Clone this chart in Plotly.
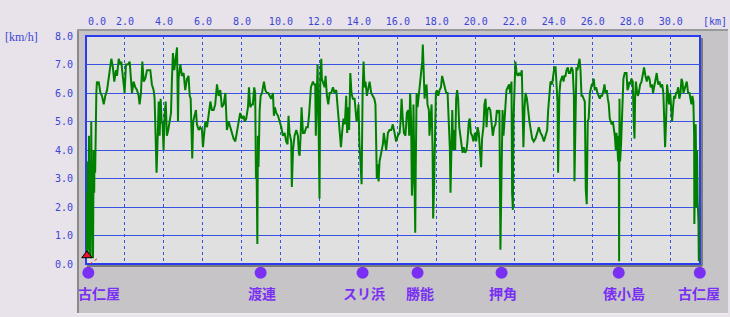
import plotly.graph_objects as go

# ---- speed trace: (distance km, speed km/h) ----
track_0_8 = [
    (0.00, 0.2), (0.03, 2.5), (0.06, 0.3), (0.09, 3.6), (0.12, 0.5), (0.15, 4.5),
    (0.18, 0.3), (0.21, 3.0), (0.24, 0.2), (0.27, 5.0), (0.30, 1.0), (0.33, 3.0),
    (0.36, 0.2), (0.39, 4.0), (0.42, 2.5), (0.44, 4.0), (0.47, 3.2), (0.50, 5.5),
    (0.53, 6.0), (0.56, 6.4), (0.60, 6.3), (0.65, 6.4), (0.74, 6.0), (0.82, 5.9),
    (0.91, 5.6), (0.99, 5.9), (1.08, 6.1), (1.16, 6.5), (1.25, 6.9), (1.30, 7.2),
    (1.38, 6.9), (1.45, 6.4), (1.54, 6.8), (1.59, 6.6), (1.68, 7.2), (1.76, 7.0),
    (1.81, 7.1), (1.88, 6.6), (1.93, 6.2), (1.98, 6.0), (2.05, 7.0), (2.15, 7.0),
    (2.24, 7.1), (2.29, 6.5), (2.36, 6.0), (2.44, 6.4), (2.53, 6.2), (2.62, 6.1),
    (2.70, 5.9), (2.75, 5.6), (2.82, 6.0), (2.89, 7.1), (2.96, 6.4), (3.04, 6.5),
    (3.13, 6.8), (3.23, 6.8), (3.30, 6.8), (3.38, 6.3), (3.47, 6.1), (3.52, 5.8),
    (3.57, 4.6), (3.61, 4.0), (3.62, 3.2), (3.68, 4.5), (3.73, 5.7), (3.78, 4.5),
    (3.83, 5.8), (3.88, 5.0), (3.93, 4.9), (3.98, 4.0), (4.03, 5.2), (4.09, 5.7),
    (4.15, 4.5), (4.22, 4.7), (4.29, 5.0), (4.36, 5.3), (4.41, 6.5), (4.46, 7.4),
    (4.53, 6.8), (4.60, 7.2), (4.67, 7.6), (4.72, 5.0), (4.75, 6.5), (4.84, 7.0),
    (4.92, 6.6), (5.01, 6.7), (5.09, 6.1), (5.18, 6.5), (5.26, 6.6), (5.32, 5.9),
    (5.37, 5.8), (5.42, 4.5), (5.45, 3.7), (5.50, 5.0), (5.57, 5.2), (5.64, 5.4),
    (5.69, 4.9), (5.78, 4.7), (5.86, 4.8), (5.95, 4.7), (6.00, 4.1), (6.05, 4.5),
    (6.12, 5.0), (6.21, 4.8), (6.29, 5.3), (6.38, 5.7), (6.46, 5.4), (6.55, 5.4),
    (6.63, 5.6), (6.72, 6.3), (6.80, 5.9), (6.89, 6.1), (6.97, 5.5), (7.06, 5.6),
    (7.15, 6.0), (7.23, 4.7), (7.32, 5.0), (7.40, 4.8), (7.49, 4.5), (7.57, 4.4),
    (7.66, 4.3), (7.74, 4.6), (7.83, 5.0), (7.91, 5.3), (8.00, 5.1), (8.09, 5.2),
]
track_8_16 = [
    (8.14, 5.0), (8.22, 5.1), (8.31, 5.5), (8.36, 6.2), (8.43, 5.5), (8.50, 5.6),
    (8.56, 5.6), (8.63, 6.2), (8.68, 6.0), (8.72, 3.0), (8.75, 3.5), (8.79, 0.7),
    (8.82, 4.5), (8.85, 3.4), (8.91, 5.4), (8.96, 5.9), (9.03, 6.0), (9.08, 6.2),
    (9.13, 6.4), (9.20, 6.1), (9.28, 6.0), (9.35, 6.0), (9.42, 5.9), (9.50, 5.8),
    (9.59, 6.0), (9.64, 5.2), (9.69, 5.5), (9.76, 5.3), (9.85, 5.2), (9.93, 5.0),
    (10.02, 4.8), (10.10, 4.5), (10.19, 4.6), (10.27, 4.3), (10.34, 4.2), (10.39, 5.2),
    (10.44, 4.6), (10.53, 4.3), (10.56, 2.7), (10.62, 4.0), (10.70, 4.5), (10.79, 4.7),
    (10.87, 4.5), (10.92, 3.9), (10.96, 3.8), (11.01, 4.5), (11.06, 5.5), (11.13, 4.6),
    (11.21, 4.6), (11.30, 4.8), (11.38, 4.8), (11.44, 5.2), (11.49, 5.8), (11.54, 6.2),
    (11.59, 6.3), (11.64, 6.4), (11.71, 6.3), (11.76, 6.3), (11.79, 4.5), (11.85, 6.8),
    (11.88, 7.0), (11.93, 5.0), (11.98, 2.3), (12.02, 6.5), (12.07, 7.2), (12.10, 6.5),
    (12.15, 6.4), (12.24, 6.2), (12.29, 6.6), (12.36, 5.9), (12.43, 5.6), (12.50, 6.0),
    (12.58, 6.0), (12.67, 6.2), (12.75, 6.0), (12.84, 6.1), (12.91, 5.5), (12.96, 5.0),
    (13.01, 4.6), (13.08, 4.1), (13.15, 4.7), (13.21, 5.1), (13.28, 4.9), (13.35, 5.9),
    (13.40, 4.6), (13.45, 5.5), (13.50, 4.7), (13.56, 6.7), (13.62, 6.0), (13.69, 5.8),
    (13.78, 5.8), (13.83, 5.5), (13.88, 5.0), (13.93, 5.2), (13.98, 5.6), (14.03, 4.2),
    (14.09, 3.3), (14.14, 2.8), (14.19, 6.0), (14.24, 7.1), (14.29, 6.2), (14.34, 6.4),
    (14.41, 5.9), (14.48, 6.1), (14.55, 6.4), (14.63, 6.0), (14.72, 5.9), (14.79, 5.8),
    (14.85, 5.6), (14.89, 4.3), (14.92, 3.0), (14.97, 3.5), (15.01, 2.9), (15.06, 3.6),
    (15.15, 4.0), (15.23, 4.2), (15.28, 4.6), (15.35, 4.3), (15.40, 4.0), (15.49, 4.6),
    (15.57, 4.7), (15.66, 4.7), (15.74, 4.9), (15.83, 4.6), (15.91, 4.3), (16.00, 4.5),
    (16.09, 4.6),
]
track_16_24 = [
    (16.14, 5.0), (16.19, 5.8), (16.24, 5.2), (16.31, 4.6), (16.39, 4.5), (16.46, 5.3),
    (16.53, 5.4), (16.58, 4.5), (16.63, 6.0), (16.68, 5.0), (16.72, 2.4), (16.77, 3.2),
    (16.80, 5.6), (16.85, 3.8), (16.89, 1.1), (16.92, 3.6), (16.96, 6.0), (17.01, 5.5),
    (17.08, 6.0), (17.15, 6.5), (17.20, 6.6), (17.25, 7.1), (17.28, 7.7), (17.33, 6.5),
    (17.37, 5.8), (17.42, 6.1), (17.47, 6.3), (17.52, 5.6), (17.59, 5.4), (17.62, 4.5),
    (17.68, 5.1), (17.73, 5.6), (17.78, 4.0), (17.81, 1.6), (17.86, 2.8), (17.90, 5.2),
    (17.95, 6.0), (18.00, 6.1), (18.07, 5.9), (18.14, 6.1), (18.21, 6.2), (18.27, 6.6),
    (18.34, 6.4), (18.41, 6.2), (18.48, 6.0), (18.55, 6.0), (18.62, 5.0), (18.67, 4.0),
    (18.70, 2.5), (18.75, 4.0), (18.79, 5.4), (18.84, 4.0), (18.89, 4.7), (18.94, 4.0),
    (18.99, 5.8), (19.04, 6.1), (19.09, 5.8), (19.15, 4.8), (19.21, 4.5), (19.26, 4.2),
    (19.32, 3.9), (19.38, 4.1), (19.45, 3.9), (19.52, 4.0), (19.57, 4.3), (19.64, 5.0),
    (19.69, 5.1), (19.74, 4.6), (19.81, 4.5), (19.88, 4.3), (19.95, 4.6), (20.02, 4.3),
    (20.09, 4.8), (20.15, 4.6), (20.22, 4.0), (20.27, 3.4), (20.32, 4.4), (20.39, 4.8),
    (20.44, 5.6), (20.50, 5.8), (20.55, 4.8), (20.60, 5.4), (20.67, 5.5), (20.74, 5.4),
    (20.80, 5.0), (20.87, 4.5), (20.94, 4.8), (21.01, 4.9), (21.08, 5.4), (21.15, 5.3),
    (21.21, 5.4), (21.26, 0.5), (21.32, 3.2), (21.37, 5.4), (21.42, 4.5), (21.47, 5.0),
    (21.52, 5.8), (21.57, 6.1), (21.64, 6.2), (21.71, 6.3), (21.76, 6.0), (21.83, 6.4),
    (21.86, 2.5), (21.90, 1.9), (21.93, 5.0), (21.98, 6.5), (22.03, 7.1), (22.09, 6.7),
    (22.15, 6.6), (22.22, 6.7), (22.29, 6.6), (22.36, 6.8), (22.39, 5.5), (22.44, 4.1),
    (22.50, 5.5), (22.55, 6.0), (22.62, 5.8), (22.68, 5.3), (22.75, 5.0), (22.82, 4.7),
    (22.89, 4.4), (22.97, 4.3), (23.06, 4.4), (23.15, 4.6), (23.23, 4.8), (23.32, 4.6),
    (23.40, 4.5), (23.49, 4.3), (23.57, 4.5), (23.66, 4.7), (23.71, 5.4), (23.76, 6.0),
    (23.83, 6.4), (23.91, 6.3), (24.00, 6.7),
]
track_24_end = [
    (24.03, 6.9), (24.09, 6.9), (24.14, 6.3), (24.19, 5.7), (24.22, 3.2), (24.26, 5.0),
    (24.29, 6.0), (24.34, 6.4), (24.39, 6.5), (24.44, 6.6), (24.50, 6.4), (24.55, 6.6),
    (24.60, 6.6), (24.65, 6.8), (24.72, 6.9), (24.77, 6.7), (24.84, 6.7), (24.91, 6.9),
    (24.97, 6.8), (25.03, 5.9), (25.06, 2.9), (25.09, 4.0), (25.13, 6.0), (25.16, 6.9),
    (25.21, 6.8), (25.26, 7.0), (25.32, 7.2), (25.37, 6.8), (25.42, 5.9), (25.47, 5.9),
    (25.54, 5.8), (25.59, 5.7), (25.64, 2.6), (25.69, 2.1), (25.74, 5.0), (25.79, 5.1),
    (25.85, 6.0), (25.90, 6.2), (25.95, 6.3), (26.00, 6.3), (26.05, 6.5), (26.10, 6.1),
    (26.17, 6.2), (26.24, 6.0), (26.31, 5.9), (26.36, 5.8), (26.41, 5.9), (26.48, 5.9),
    (26.55, 6.1), (26.60, 6.3), (26.65, 6.0), (26.72, 6.1), (26.77, 5.8), (26.82, 5.6),
    (26.87, 5.1), (26.92, 5.0), (26.97, 4.9), (27.03, 5.0), (27.08, 4.8), (27.13, 4.5),
    (27.18, 4.0), (27.21, 4.6), (27.26, 4.2), (27.30, 3.6), (27.33, 4.5), (27.35, 0.1),
    (27.37, 5.8), (27.40, 3.6), (27.45, 4.2), (27.50, 5.0), (27.54, 6.0), (27.57, 6.5),
    (27.64, 6.7), (27.73, 6.7), (27.78, 6.1), (27.83, 6.2), (27.88, 6.4), (27.93, 6.3),
    (27.98, 6.5), (28.05, 6.4), (28.10, 5.0), (28.14, 4.4), (28.17, 5.8), (28.21, 6.4),
    (28.26, 6.1), (28.31, 5.9), (28.36, 6.0), (28.43, 6.3), (28.50, 6.4), (28.56, 6.6),
    (28.63, 6.9), (28.70, 6.6), (28.77, 6.4), (28.84, 6.6), (28.91, 6.5), (28.97, 6.2),
    (29.04, 6.3), (29.09, 6.0), (29.15, 6.2), (29.21, 6.5), (29.28, 6.7), (29.35, 6.3),
    (29.42, 6.4), (29.49, 6.2), (29.56, 6.3), (29.62, 6.0), (29.68, 5.0), (29.71, 4.1),
    (29.76, 5.0), (29.81, 6.3), (29.86, 6.0), (29.91, 5.6), (29.97, 6.0), (30.02, 5.4),
    (30.07, 5.0), (30.12, 5.5), (30.17, 5.9), (30.22, 5.8), (30.27, 6.0), (30.32, 6.0),
    (30.38, 6.2), (30.44, 5.8), (30.50, 6.0), (30.55, 6.5), (30.60, 6.4), (30.65, 6.0),
    (30.70, 6.1), (30.75, 6.2), (30.82, 6.4), (30.89, 6.0), (30.96, 6.0), (31.01, 5.8),
    (31.06, 5.6), (31.11, 5.9), (31.16, 5.7), (31.20, 4.5), (31.21, 1.4), (31.25, 3.5),
    (31.28, 4.9), (31.32, 2.0), (31.35, 4.0), (31.38, 2.2), (31.42, 1.5), (31.44, 0.1),
]

x_tick_vals = [2, 4, 6, 8, 10, 12, 14, 16, 18, 20, 22, 24, 26, 28, 30]
x_tick_text = ["2.0", "4.0", "6.0", "8.0", "10.0", "12.0", "14.0", "16.0",
               "18.0", "20.0", "22.0", "24.0", "26.0", "28.0", "30.0"]
y_tick_vals = [0, 1, 2, 3, 4, 5, 6, 7, 8]
y_tick_text = ["0.0", "1.0", "2.0", "3.0", "4.0", "5.0", "6.0", "7.0", "8.0"]

places = ["古仁屋", "渡連", "スリ浜", "勝能", "押角", "俵小島", "古仁屋"]
place_km = [0.12, 8.96, 14.19, 17.01, 21.32, 27.33, 31.49]
place_label_shift = [11, 1, 1, 2, 1, 5, -1]

start_km = [0.05]
start_speed = [0.3]

# -------------------------------------------------------------------------
points = track_0_8 + track_8_16 + track_16_24 + track_24_end
dist = [p[0] for p in points]
speed = [p[1] for p in points]

BLUE_TXT = "#3a46d6"
BLUE_GRID = "#3a52e2"
BLUE_FRAME = "#2a3cf0"
PURPLE = "#7a30f4"
MONO = "DejaVu Sans Mono"

W, H = 730, 317
L, R, T, B = 86, 30, 36, 4
PW, PH = W - L - R, H - T - B
PLOT_BOTTOM_PX = 264          # pixel row of speed 0
STRIP_PX = H - B - PLOT_BOTTOM_PX
main_bottom = STRIP_PX / PH


def px_x(px):
    return (px - L) / PW


def px_y(py):
    return (H - B - py) / PH


fig = go.Figure()

fig.add_trace(go.Scatter(
    x=dist, y=speed, mode="lines", xaxis="x", yaxis="y",
    line=dict(color="#008000", width=2),
    hoverinfo="skip", showlegend=False,
))

# place markers in the strip below the chart (strip axis in pixels below 0)
fig.add_trace(go.Scatter(
    x=place_km, y=[-8.7] * len(place_km), mode="markers",
    xaxis="x2", yaxis="y2",
    marker=dict(color=PURPLE, size=12, line=dict(width=0)),
    cliponaxis=False, showlegend=False, hoverinfo="skip",
))

fig.add_trace(go.Scatter(
    x=start_km, y=start_speed, mode="markers", xaxis="x", yaxis="y",
    marker=dict(symbol="triangle-up", color="#e8182a", size=9,
                line=dict(color="#000000", width=1)),
    cliponaxis=False, showlegend=False, hoverinfo="skip",
))

shapes = [
    # outer gray panel
    dict(type="rect", xref="paper", yref="paper",
         x0=px_x(77), x1=px_x(728), y0=px_y(313), y1=px_y(29),
         fillcolor="#c6c4c6", line=dict(width=0), layer="below"),
    dict(type="line", xref="paper", yref="paper",
         x0=px_x(78), x1=px_x(78), y0=px_y(313), y1=px_y(29),
         line=dict(color="#8a8a8a", width=2), layer="below"),
    dict(type="line", xref="paper", yref="paper",
         x0=px_x(77), x1=px_x(728), y0=px_y(30), y1=px_y(30),
         line=dict(color="#9a9a9a", width=2), layer="below"),
    dict(type="line", xref="paper", yref="paper",
         x0=px_x(77), x1=px_x(728), y0=px_y(314), y1=px_y(314),
         line=dict(color="#f4f4f4", width=1), layer="below"),
    # plot background
    dict(type="rect", xref="paper", yref="paper", x0=0, x1=1,
         y0=main_bottom, y1=1,
         fillcolor="#e0e0e0", line=dict(width=0), layer="below"),
    # shadow lines
    dict(type="line", xref="paper", yref="paper",
         x0=px_x(87), x1=px_x(702), y0=px_y(266), y1=px_y(266),
         line=dict(color="#7a7a7a", width=2), layer="below"),
    dict(type="line", xref="paper", yref="paper",
         x0=px_x(702), x1=px_x(702), y0=px_y(266), y1=px_y(38),
         line=dict(color="#7a7a7a", width=2), layer="below"),
    # blue frame
    dict(type="rect", xref="paper", yref="paper", x0=0, x1=1,
         y0=main_bottom, y1=1,
         line=dict(color=BLUE_FRAME, width=2), fillcolor="rgba(0,0,0,0)",
         layer="between"),
    # start guide
    dict(type="line", xref="x", yref="y", x0=-0.31, y0=-0.25, x1=0.56, y1=0.18,
         line=dict(color="#e8182a", width=1, dash="dot"), layer="above"),
]

annotations = [
    dict(text="0.0", x=0, y=1, xref="x", yref="paper", showarrow=False,
         xanchor="center", yanchor="middle", xshift=11, yshift=15,
         font=dict(family=MONO, size=10, color=BLUE_TXT)),
    dict(text="[km]", x=px_x(715), y=1, xref="paper", yref="paper",
         showarrow=False, xanchor="center", yanchor="middle", yshift=15,
         font=dict(family=MONO, size=10, color=BLUE_TXT)),
    dict(text="[km/h]", x=px_x(3), y=px_y(37), xref="paper", yref="paper",
         showarrow=False, xanchor="left", yanchor="middle",
         font=dict(family="Liberation Serif", size=12, color=BLUE_TXT)),
]
for name, k, sh in zip(places, place_km, place_label_shift):
    annotations.append(dict(
        text="<b>%s</b>" % name, x=k, y=-29, xref="x2", yref="y2",
        showarrow=False, xanchor="center", yanchor="middle", xshift=sh,
        font=dict(family="Noto Sans CJK JP", size=14, color=PURPLE)))

fig.update_layout(
    width=W, height=H,
    margin=dict(l=L, r=R, t=T, b=B, pad=0, autoexpand=False),
    paper_bgcolor="#e8e2ea", plot_bgcolor="rgba(0,0,0,0)",
    showlegend=False,
    shapes=shapes, annotations=annotations,
    xaxis=dict(range=[0, 31.5], side="top", anchor="y", tickvals=x_tick_vals,
               ticktext=x_tick_text, ticks="", ticklabelstandoff=8,
               showgrid=True, gridcolor=BLUE_GRID, gridwidth=1, griddash="dot",
               zeroline=False, showline=False, fixedrange=True, automargin=False,
               tickfont=dict(family=MONO, size=10, color=BLUE_TXT)),
    yaxis=dict(range=[0, 8], domain=[main_bottom, 1], anchor="x",
               tickvals=y_tick_vals, ticktext=y_tick_text,
               ticks="", ticklabelstandoff=12, automargin=False,
               showgrid=True, gridcolor=BLUE_GRID, gridwidth=1,
               zeroline=False, showline=False, fixedrange=True,
               tickfont=dict(family=MONO, size=10, color=BLUE_TXT)),
    xaxis2=dict(matches="x", anchor="y2", visible=False, showgrid=False,
                fixedrange=True, automargin=False),
    yaxis2=dict(range=[-STRIP_PX, 0], domain=[0, main_bottom], anchor="x2",
                visible=False, showgrid=False, fixedrange=True, automargin=False),
)

fig.write_html("out.html", config={"displayModeBar": False})
